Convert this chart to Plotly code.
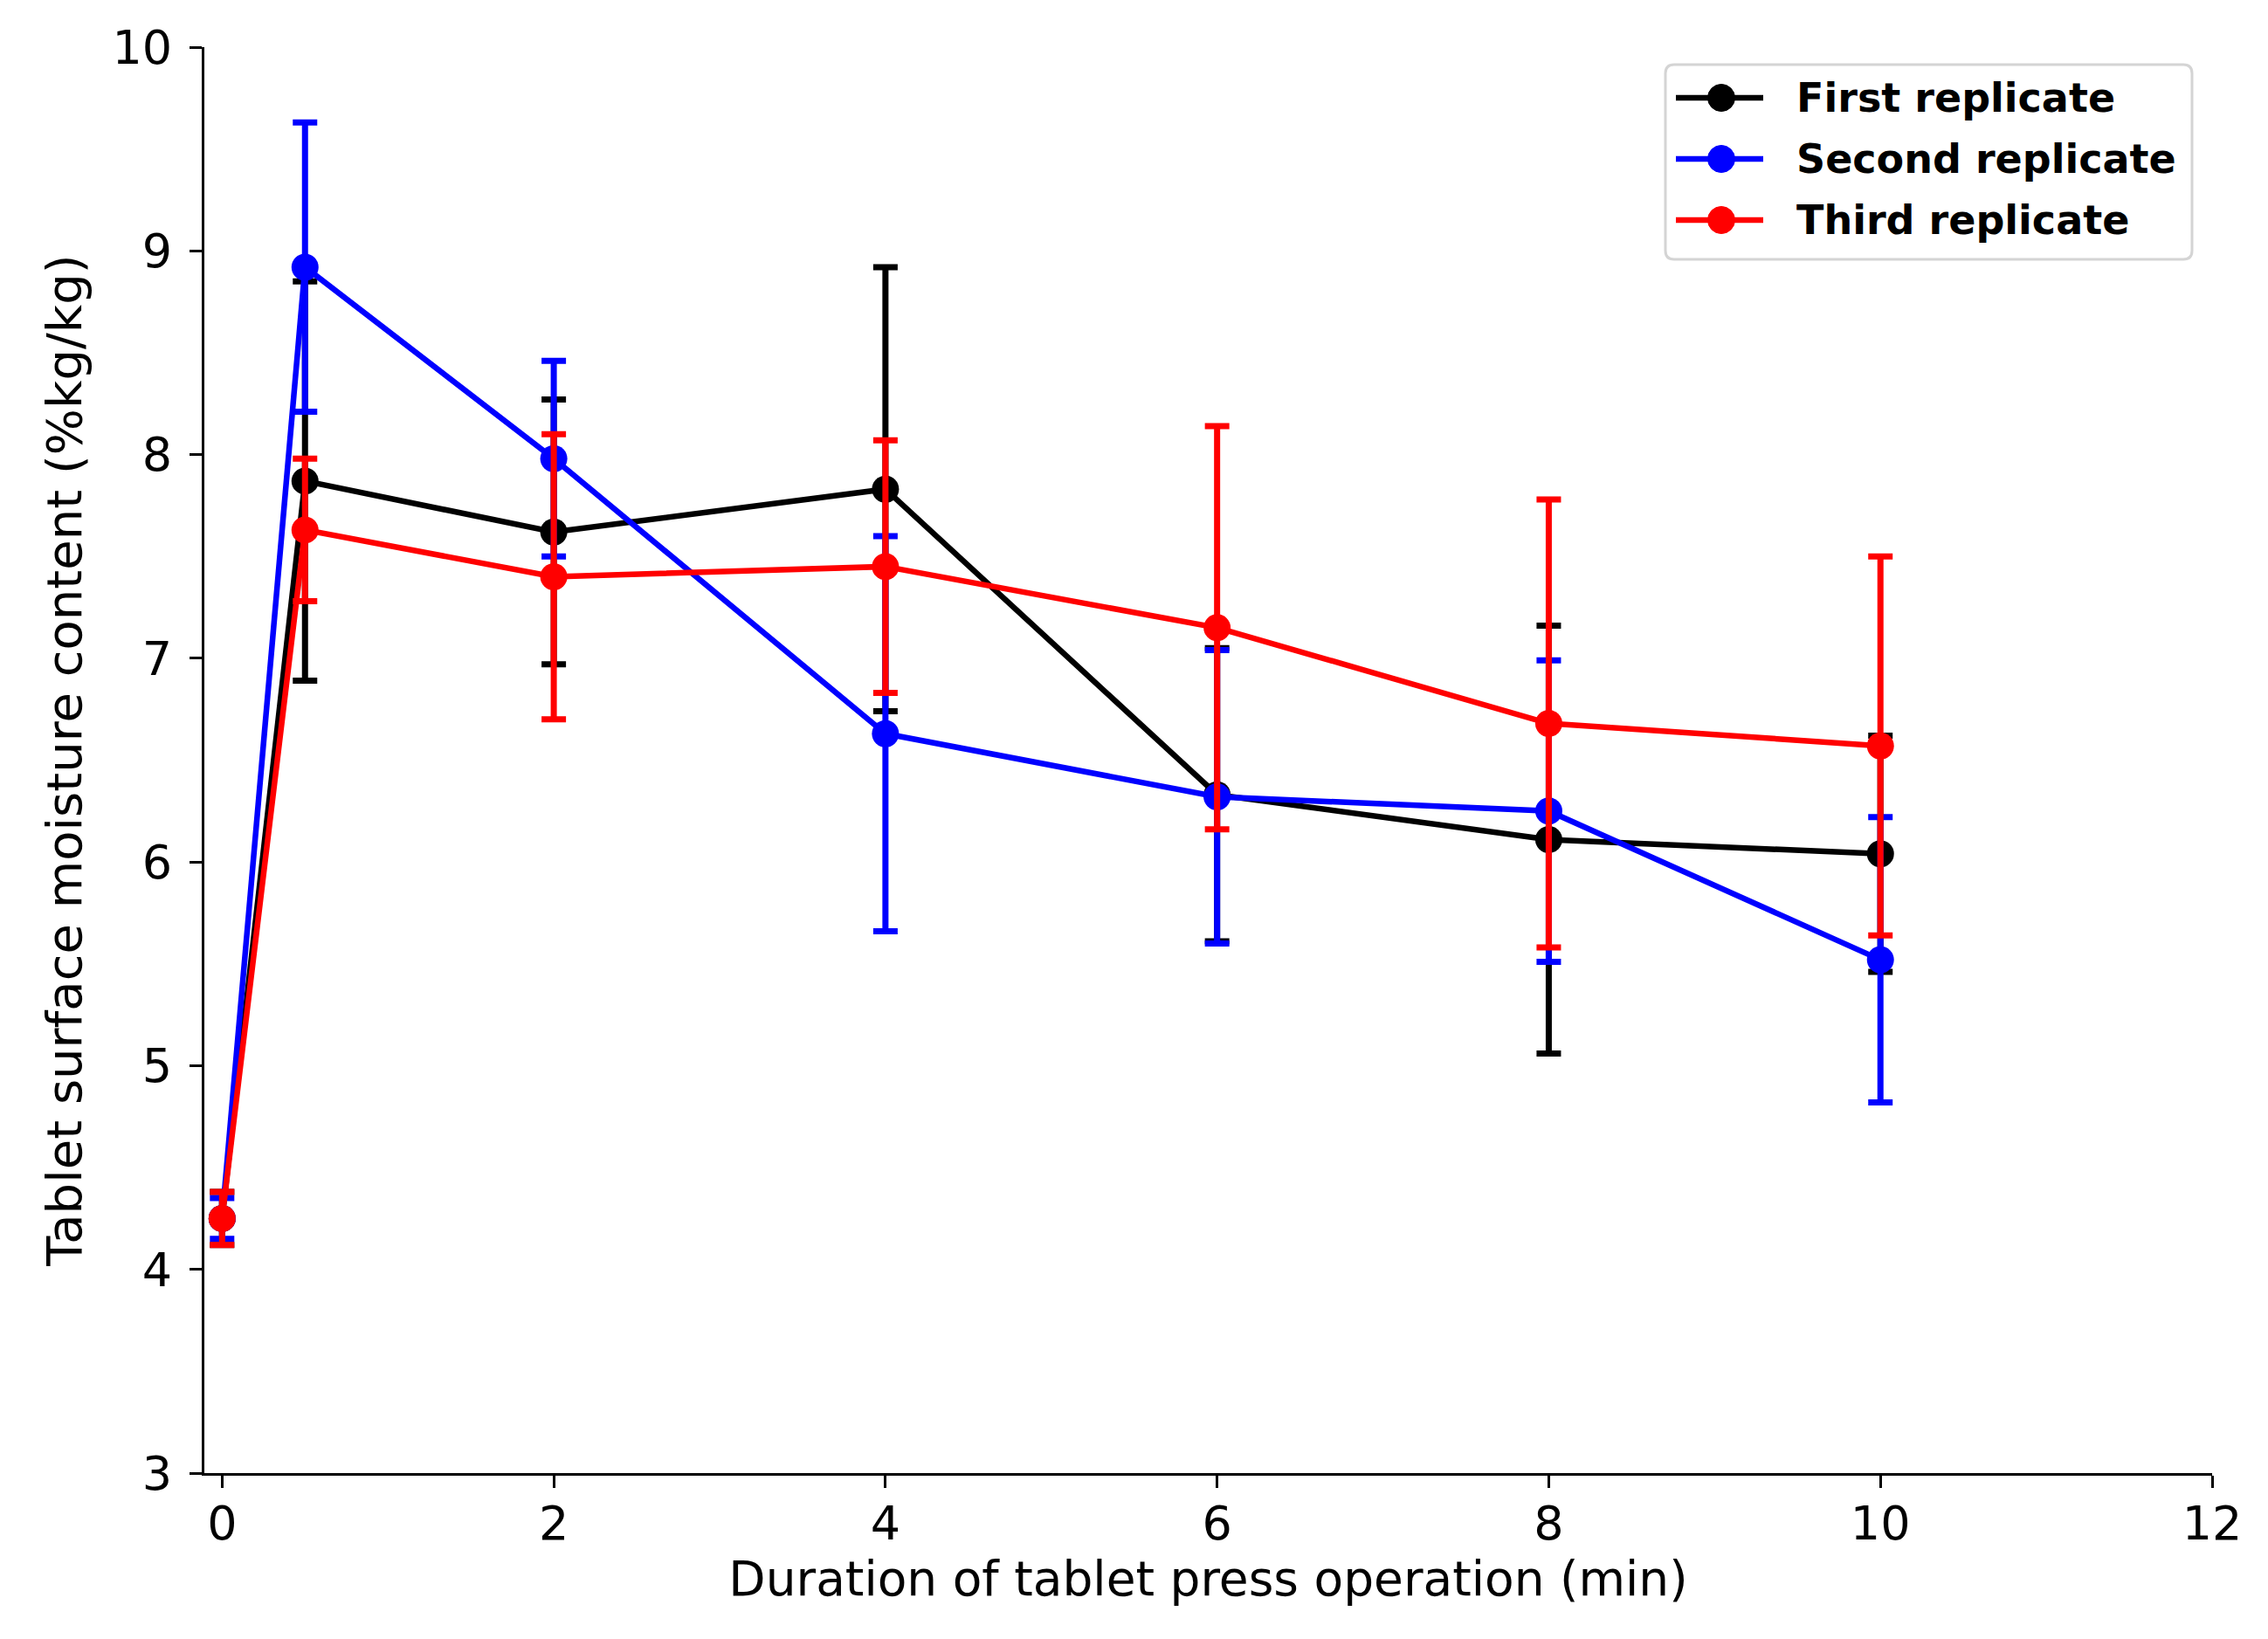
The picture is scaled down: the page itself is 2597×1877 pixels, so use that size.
import plotly.graph_objects as go

# Data
duration_min = [0, 0.5, 2, 4, 6, 8, 10]

first_replicate = [4.25, 7.87, 7.62, 7.83, 6.33, 6.11, 6.04]
first_err = [0.13, 0.98, 0.65, 1.09, 0.72, 1.05, 0.58]

second_replicate = [4.25, 8.92, 7.98, 6.63, 6.32, 6.25, 5.52]
second_err = [0.10, 0.71, 0.48, 0.97, 0.72, 0.74, 0.70]

third_replicate = [4.25, 7.63, 7.40, 7.45, 7.15, 6.68, 6.57]
third_err = [0.13, 0.35, 0.70, 0.62, 0.99, 1.10, 0.93]

series_names = ["First replicate", "Second replicate", "Third replicate"]
series_colors = ["#000000", "#0000ff", "#ff0000"]

x_ticks = [0, 2, 4, 6, 8, 10, 12]
y_ticks = [3, 4, 5, 6, 7, 8, 9, 10]

FONT = "DejaVu Sans"

# page geometry (the page body adds an 8px offset)
W, H = 2597, 1877
PAGE_OFF = 8
PLOT_L, PLOT_R, PLOT_T, PLOT_B = 234, 2533, 54, 1687
PW, PH = PLOT_R - PLOT_L, PLOT_B - PLOT_T

LINE_W = 6.5
MARKER_D = 31


def px(xp):
    return (xp - PLOT_L) / PW


def py(yp):
    return (PLOT_B - yp) / PH


fig = go.Figure()
for name, color, vals, errs in zip(
    series_names,
    series_colors,
    [first_replicate, second_replicate, third_replicate],
    [first_err, second_err, third_err],
):
    fig.add_trace(
        go.Scatter(
            x=duration_min,
            y=vals,
            name=name,
            mode="lines+markers",
            line=dict(color=color, width=LINE_W),
            marker=dict(color=color, size=MARKER_D, symbol="circle"),
            error_y=dict(
                type="data",
                array=errs,
                visible=True,
                color=color,
                thickness=7,
                width=14,
            ),
            showlegend=False,
        )
    )

# custom legend (matplotlib-like box with long line samples and big markers)
shapes = []
annotations = []
box_l, box_r, box_t, box_b = 1907, 2510, 74, 297
r = 10
rx, ry = r / PW, r / PH
x0, x1, y0, y1 = px(box_l), px(box_r), py(box_b), py(box_t)
path = (
    f"M {x0 + rx},{y1} L {x1 - rx},{y1} Q {x1},{y1} {x1},{y1 - ry} "
    f"L {x1},{y0 + ry} Q {x1},{y0} {x1 - rx},{y0} "
    f"L {x0 + rx},{y0} Q {x0},{y0} {x0},{y0 + ry} "
    f"L {x0},{y1 - ry} Q {x0},{y1} {x0 + rx},{y1} Z"
)
shapes.append(
    dict(
        type="path",
        xref="paper",
        yref="paper",
        path=path,
        line=dict(color="#d4d4d4", width=3),
        fillcolor="rgba(255,255,255,0.85)",
        layer="above",
    )
)
entry_y = [112, 182, 252]
line_x0, line_x1, mark_x, text_x = 1919, 2019, 1971, 2055
mr = MARKER_D / 2
for name, color, ey in zip(series_names, series_colors, entry_y):
    shapes.append(
        dict(
            type="line",
            xref="paper",
            yref="paper",
            x0=px(line_x0),
            x1=px(line_x1),
            y0=py(ey),
            y1=py(ey),
            line=dict(color=color, width=LINE_W),
            layer="above",
        )
    )
    shapes.append(
        dict(
            type="circle",
            xref="paper",
            yref="paper",
            x0=px(mark_x - mr),
            x1=px(mark_x + mr),
            y0=py(ey + mr),
            y1=py(ey - mr),
            line=dict(color=color, width=1),
            fillcolor=color,
            layer="above",
        )
    )
    annotations.append(
        dict(
            xref="paper",
            yref="paper",
            x=px(text_x),
            y=py(ey),
            xanchor="left",
            yanchor="middle",
            text=name,
            showarrow=False,
            font=dict(family=FONT, size=46, color="black", weight="bold"),
        )
    )

fig.update_layout(
    width=W,
    height=H,
    paper_bgcolor="white",
    plot_bgcolor="white",
    margin=dict(
        l=PLOT_L - PAGE_OFF,
        r=W - PLOT_R + PAGE_OFF,
        t=PLOT_T - PAGE_OFF,
        b=H - PLOT_B + PAGE_OFF,
    ),
    font=dict(family=FONT, size=54, color="black"),
    showlegend=False,
    shapes=shapes,
    annotations=annotations,
)

fig.update_xaxes(
    range=[-0.107, 12],
    tickvals=x_ticks,
    ticktext=[str(v) for v in x_ticks],
    showline=True,
    linecolor="black",
    linewidth=3,
    mirror=False,
    ticks="outside",
    ticklen=14,
    tickwidth=3,
    tickcolor="black",
    showgrid=False,
    zeroline=False,
    ticklabelstandoff=-6,
    tickfont=dict(family=FONT, size=54, color="black"),
    title=dict(
        text="Duration of tablet press operation (min)",
        font=dict(family=FONT, size=55, color="black"),
        standoff=0,
    ),
)

fig.update_yaxes(
    range=[3, 10],
    tickvals=y_ticks,
    ticktext=[str(v) for v in y_ticks],
    showline=True,
    linecolor="black",
    linewidth=3,
    mirror=False,
    ticks="outside",
    ticklen=14,
    tickwidth=3,
    tickcolor="black",
    showgrid=False,
    zeroline=False,
    ticklabelstandoff=9,
    tickfont=dict(family=FONT, size=54, color="black"),
    title=dict(
        text="Tablet surface moisture content (%kg/kg)",
        font=dict(family=FONT, size=56, color="black"),
        standoff=17,
    ),
)

fig.write_html("out.html")
